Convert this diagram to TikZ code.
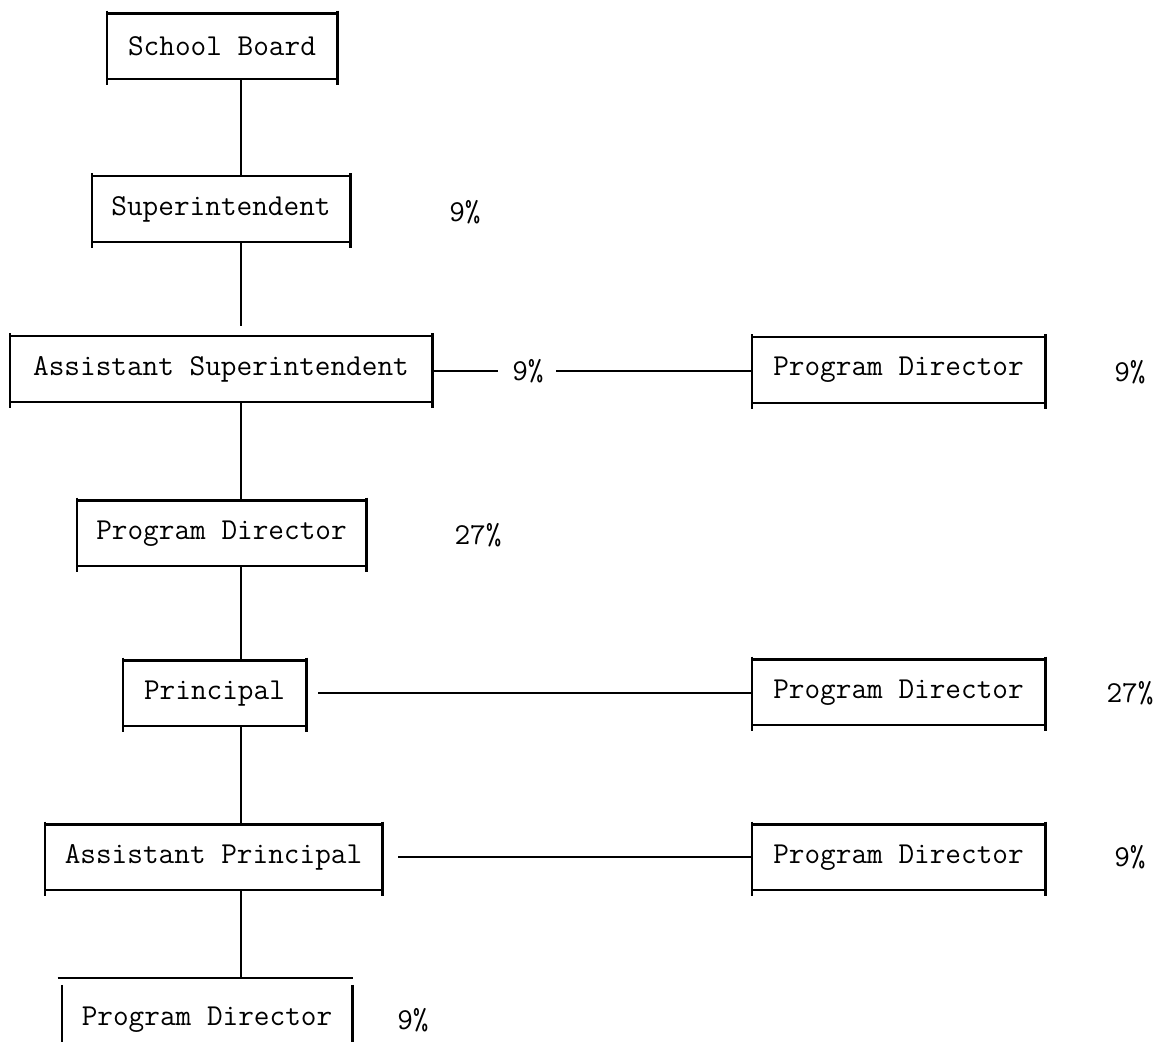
\documentclass[tikz,border=0pt]{standalone}
\begin{document}
\begin{tikzpicture}[x=0.5pt,y=-0.5pt,
  lbl/.style={font=\ttfamily\fontsize{15.2}{18}\selectfont, inner sep=0},
  obox/.style={lbl, minimum height=32.5pt},
  rule/.style={line width=1.1pt},
  link/.style={line width=1pt}]
\useasboundingbox (0,0) rectangle (1158,1042);
% boxes
\node[obox, minimum width=115pt]   (sb)  at (222,46.5)   {School Board};
\node[obox, minimum width=129pt]   (sup) at (221,209)    {Superintendent};
\node[obox, minimum width=211pt]   (as)  at (221,369)    {Assistant Superintendent};
\node[obox, minimum width=146.5pt] (pd1) at (898.5,370)  {Program Director};
\node[obox, minimum width=144.5pt] (pdA) at (221.5,533.5){Program Director};
\node[obox, minimum width=91.5pt]  (pr)  at (214.5,693.5){Principal};
\node[obox, minimum width=146.5pt] (pd2) at (898.5,692.5){Program Director};
\node[obox, minimum width=168.5pt] (ap)  at (213.5,857.5){Assistant Principal};
\node[obox, minimum width=146.5pt] (pd3) at (898.5,857.5){Program Director};
\node[lbl, minimum width=145pt]    (pdB) at (207,1020)   {Program Director};
% percentages
\node[lbl] (p1) at (465,212)  {9\%};
\node[lbl] (p2) at (528,371)  {9\%};
\node[lbl] (p3) at (1130,372) {9\%};
\node[lbl] (p4) at (478,535)  {27\%};
\node[lbl] (p5) at (1130,693) {27\%};
\node[lbl] (p6) at (1130,857) {9\%};
\node[lbl] (p7) at (413,1020) {9\%};
% box outlines (sides overrun the top and bottom rules)
\foreach \n in {sb,sup,as,pd1,pdA,pr,pd2,ap,pd3}{
  \draw[rule] (\n.north west) -- (\n.north east) (\n.south west) -- (\n.south east);
  \draw[rule] ([yshift=1.5pt]\n.north west) -- ([yshift=-3pt]\n.south west)
              ([yshift=1.5pt]\n.north east) -- ([yshift=-3pt]\n.south east);
}
% last box, cut off by the page edge
\coordinate (bt) at (0,978);
\coordinate (bb) at (0,1042);
\draw[rule] ([xshift=-2pt]pdB.west |- bt) -- ([xshift=0.5pt]pdB.east |- bt);
\draw[rule] ([yshift=-3.5pt]pdB.west |- bt) -- (pdB.west |- bb)
            ([yshift=-3.5pt]pdB.east |- bt) -- (pdB.east |- bb);
% trunk
\coordinate (trunk) at (241,0);
\draw[link] (trunk |- sb.south)  -- (trunk |- sup.north);
\draw[link] (trunk |- sup.south) -- ([yshift=5pt]trunk |- as.north);
\draw[link] (trunk |- as.south)  -- (trunk |- pdA.north);
\draw[link] (trunk |- pdA.south) -- (trunk |- pr.north);
\draw[link] (trunk |- pr.south)  -- (trunk |- ap.north);
\draw[link] (trunk |- ap.south)  -- (trunk |- bt);
% side links
\draw[link] (as.east |- p2.west) -- ([xshift=-7pt]p2.west);
\draw[link] ([xshift=6pt]p2.east) -- (pd1.west |- p2.east);
\draw[link, shorten <=6pt] (pr.east) -- (pd2.west |- pr.east);
\draw[link, shorten <=8pt] (ap.east) -- (pd3.west |- ap.east);
\end{tikzpicture}
\end{document}
